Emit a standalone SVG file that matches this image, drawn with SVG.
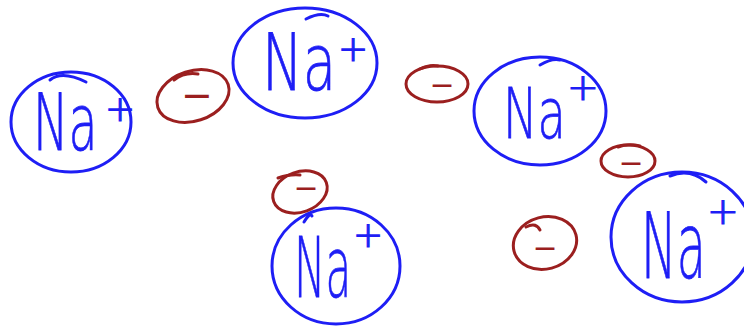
<svg xmlns="http://www.w3.org/2000/svg" width="744" height="327" viewBox="0 0 744 327">
<style>
.ion{fill:none;stroke:#1e1ef5;stroke-width:3;stroke-linecap:round}
.el{fill:none;stroke:#9b1f1f;stroke-width:3;stroke-linecap:round}
.na{font-family:"DejaVu Sans","Liberation Sans",sans-serif;font-weight:200;fill:#1e1ef5;stroke:#1e1ef5;stroke-width:0.8}
.pl{font-family:"DejaVu Sans","Liberation Sans",sans-serif;font-weight:200;fill:#1e1ef5;stroke:#1e1ef5;stroke-width:1.2;text-anchor:middle}
.mi{font-family:"DejaVu Sans","Liberation Sans",sans-serif;font-weight:400;fill:#9b1f1f;text-anchor:middle}
</style>
<rect width="744" height="327" fill="#fff"/>
<g id="na1">
<ellipse class="ion" cx="71" cy="122" rx="60" ry="50"/>
<path class="ion" d="M50 80 Q62 70 86 82"/>
<text class="na" transform="translate(33 150) scale(0.6 1)" font-size="79">Na</text>
<text class="pl" x="120" y="121" font-size="36">+</text>
</g>
<g id="na2">
<ellipse class="ion" cx="305" cy="63" rx="72" ry="55"/>
<path class="ion" d="M306 19 Q320 12 328 16"/>
<text class="na" transform="translate(262 90) scale(0.7 1)" font-size="78">Na</text>
<text class="pl" x="353" y="61" font-size="36">+</text>
</g>
<g id="na3">
<ellipse class="ion" cx="540" cy="111" rx="66" ry="54"/>
<path class="ion" d="M540 65 Q552 58 560 60"/>
<text class="na" transform="translate(503 138) scale(0.67 1)" font-size="69">Na</text>
<text class="pl" x="583" y="100" font-size="38">+</text>
</g>
<g id="na4">
<ellipse class="ion" cx="336" cy="266" rx="64" ry="58"/>
<path class="ion" d="M304 222 Q310 212 312 216"/>
<text class="na" transform="translate(294 297) scale(0.5 1)" font-size="84">Na</text>
<text class="pl" x="368" y="247" font-size="36">+</text>
</g>
<g id="na5">
<ellipse class="ion" cx="682" cy="237" rx="71" ry="65"/>
<path class="ion" d="M670 176 Q690 168 706 182"/>
<text class="na" transform="translate(641 278) scale(0.53 1)" font-size="90">Na</text>
<text class="pl" x="723" y="224" font-size="38">+</text>
</g>
<g id="e1">
<ellipse class="el" cx="193" cy="96" rx="37" ry="25" transform="rotate(-18 193 96)"/>
<path class="el" d="M174 80 Q184 72 198 74"/>
<text class="mi" x="197" y="108" font-size="38">−</text>
</g>
<g id="e2">
<ellipse class="el" cx="437" cy="84" rx="31" ry="18"/>
<path class="el" d="M420 69 Q430 64 438 66"/>
<text class="mi" x="442" y="95" font-size="30">−</text>
</g>
<g id="e3">
<ellipse class="el" cx="628" cy="161" rx="27" ry="16"/>
<path class="el" d="M618 147 Q628 143 640 146"/>
<text class="mi" x="631" y="173" font-size="30">−</text>
</g>
<g id="e4">
<ellipse class="el" cx="300" cy="192" rx="28" ry="20" transform="rotate(-20 300 192)"/>
<path class="el" d="M278 178 Q290 174 300 175"/>
<text class="mi" x="306" y="198" font-size="30">−</text>
</g>
<g id="e5">
<ellipse class="el" cx="545" cy="243" rx="32" ry="26" transform="rotate(-15 545 243)"/>
<path class="el" d="M526 227 Q536 222 540 230"/>
<text class="mi" x="545" y="258" font-size="30">−</text>
</g>
</svg>
